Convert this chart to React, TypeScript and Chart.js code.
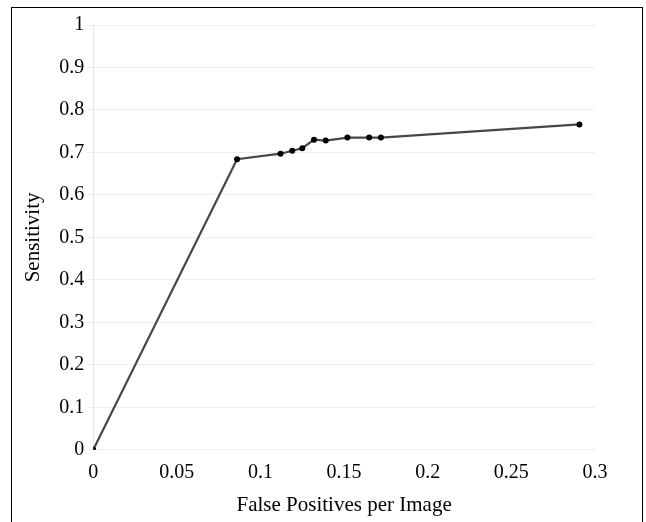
import React, { useEffect, useRef } from "react";
import { Chart, registerables } from "chart.js";

Chart.register(...registerables);

const fppi = [0, 0.086, 0.112, 0.119, 0.125, 0.132, 0.139, 0.152, 0.165, 0.172, 0.2907];
const sensitivity = [0, 0.684, 0.697, 0.704, 0.71, 0.73, 0.728, 0.735, 0.735, 0.735, 0.766];
const xTitle = "False Positives per Image";
const yTitle = "Sensitivity";

const fmt = (v: number | string) => String(parseFloat(Number(v).toFixed(4)));

export default function App() {
  const ref = useRef<HTMLCanvasElement | null>(null);
  useEffect(() => {
    if (!ref.current) return;
    const family = "'Liberation Serif', 'Times New Roman', serif";
    const tickFont = { family, size: 20 };
    const titleFont = { family, size: 21 };
    const chart = new Chart(ref.current, {
      type: "scatter",
      data: {
        datasets: [
          {
            data: fppi.map((x, i) => ({ x, y: sensitivity[i] })),
            showLine: true,
            borderColor: "#474747",
            borderWidth: 2.2,
            backgroundColor: "#000000",
            pointBackgroundColor: "#000000",
            pointBorderColor: "#000000",
            pointRadius: 3,
            pointBorderWidth: 0,
          },
        ],
      },
      options: {
        responsive: false,
        animation: false,
        layout: { padding: { top: 25, right: 51, bottom: 4, left: 19 } },
        plugins: { legend: { display: false }, tooltip: { enabled: false } },
        scales: {
          x: {
            type: "linear",
            min: 0,
            max: 0.3,
            ticks: { stepSize: 0.05, color: "#000", font: tickFont, padding: 3, callback: (v) => fmt(v) },
            grid: { display: false },
            border: { display: false },
            title: { display: true, text: xTitle, color: "#000", font: titleFont, padding: { top: 5, bottom: 0 } },
          },
          y: {
            min: 0,
            max: 1,
            ticks: { stepSize: 0.1, color: "#000", font: tickFont, padding: 3, callback: (v) => fmt(v) },
            grid: { color: "#eeeeee", lineWidth: 1, tickLength: 6 },
            border: { display: true, color: "#e6e6e6" },
            title: { display: true, text: yTitle, color: "#000", font: titleFont, padding: { top: 2, bottom: 10 } },
          },
        },
      },
    });
    return () => chart.destroy();
  }, []);
  return (
    <div style={{ position: "absolute", left: 0, top: 0, width: 646, height: 522, overflow: "hidden", background: "#fff" }}>
      <div
        style={{
          position: "absolute",
          left: 11,
          top: 7,
          width: 632,
          height: 540,
          border: "1px solid #000",
          boxSizing: "border-box",
        }}
      />
      <canvas ref={ref} width={646} height={522} style={{ position: "absolute", left: 0, top: 0 }} />
    </div>
  );
}
